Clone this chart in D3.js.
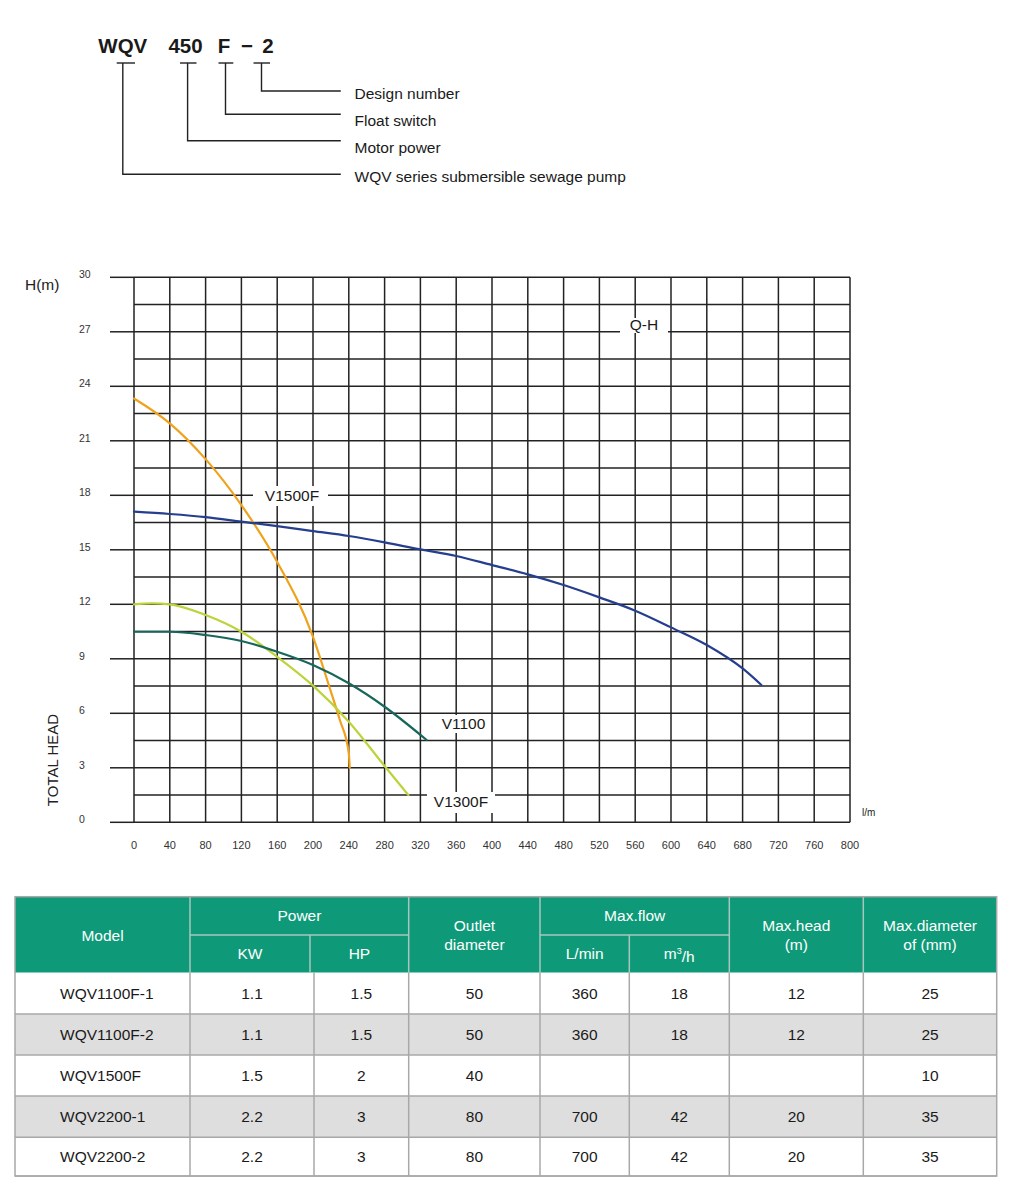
<!DOCTYPE html>
<html><head><meta charset="utf-8">
<script src="https://cdn.jsdelivr.net/npm/d3@7/dist/d3.min.js"></script>
<style>
body{margin:0;background:#fff;}
svg{display:block;font-family:"Liberation Sans",Arial,Helvetica,sans-serif;}
</style>
</head><body>
<svg id="c" width="1012" height="1200"></svg>
<script>
// ---------------- data ----------------
const codeParts = ["WQV", "450", "F", "\u2212", "2"];
const codeMeanings = ["Design number", "Float switch", "Motor power", "WQV series submersible sewage pump"];

const xTickLabels = [0, 40, 80, 120, 160, 200, 240, 280, 320, 360, 400, 440, 480, 520, 560, 600, 640, 680, 720, 760, 800];
const yTickLabels = [0, 3, 6, 9, 12, 15, 18, 21, 24, 27, 30];

const curveQH = [[0,17.1],[40,16.97],[80,16.8],[120,16.55],[160,16.3],[200,16.03],[240,15.76],[280,15.41],[320,15.02],[360,14.66],[400,14.16],[440,13.65],[480,13.06],[520,12.38],[560,11.65],[600,10.73],[640,9.76],[680,8.47],[701,7.56]];
const curveV1500F = [[0,23.33],[40,21.96],[80,19.99],[120,17.46],[160,14.33],[200,10.21],[220,7.19],[230,5.63],[240,3.8],[241,3.0]];
const curveV1300F = [[0,12.0],[20,12.05],[40,12.0],[80,11.41],[120,10.49],[160,9.11],[200,7.52],[240,5.54],[280,3.1],[306.6,1.5]];
const curveV1100 = [[0,10.49],[40,10.49],[80,10.31],[120,9.98],[160,9.39],[200,8.66],[240,7.65],[280,6.36],[327,4.53]];
const curveNames = ["Q-H", "V1500F", "V1100", "V1300F"];

const tableModels = ["WQV1100F-1", "WQV1100F-2", "WQV1500F", "WQV2200-1", "WQV2200-2"];
const tableKW = ["1.1", "1.1", "1.5", "2.2", "2.2"];
const tableHP = ["1.5", "1.5", "2", "3", "3"];
const tableOutlet = ["50", "50", "40", "80", "80"];
const tableFlowLmin = ["360", "360", "", "700", "700"];
const tableFlowM3h = ["18", "18", "", "42", "42"];
const tableMaxHead = ["12", "12", "", "20", "20"];
const tableMaxDiam = ["25", "25", "10", "35", "35"];

// ---------------- drawing ----------------
const svg = d3.select("#c");
const INK = "#222";

// ===== model code diagram =====
const codeG = svg.append("g");
const partX = [122.8, 185.5, 224, 247, 268];
codeG.selectAll("text.part").data(codeParts).join("text")
  .attr("x", (d, i) => partX[i]).attr("y", 53.3)
  .attr("text-anchor", "middle").attr("font-size", 20.5).attr("font-weight", "bold")
  .attr("fill", "#1a1a1a").text(d => d);

// brackets: [left, right, verticalX, dropY] for WQV, 450, F, 2
const brackets = [[116.7,135,122.8,174.3],[180,196.5,187.6,140.7],[218.5,233.3,225.5,114.3],[253.5,270,261.5,91]];
const labelY = [182, 153, 126, 99];
const meaningIdx = [3, 2, 1, 0];
brackets.forEach((b, i) => {
  codeG.append("line").attr("x1", b[0]).attr("x2", b[1]).attr("y1", 63).attr("y2", 63)
    .attr("stroke", INK).attr("stroke-width", 1.4);
  codeG.append("path").attr("d", `M${b[2]},63V${b[3]}H340.8`)
    .attr("fill", "none").attr("stroke", INK).attr("stroke-width", 1.4);
  codeG.append("text").attr("x", 354.5).attr("y", labelY[i])
    .attr("font-size", 15.5).attr("fill", "#1a1a1a").text(codeMeanings[meaningIdx[i]]);
});

// ===== chart =====
const x = d3.scaleLinear().domain([0, 800]).range([134, 850]);
const y = d3.scaleLinear().domain([0, 30]).range([822.3, 277.3]);
const g = svg.append("g");

g.selectAll("line.vg").data(xTickLabels).join("line")
  .attr("x1", d => x(d)).attr("x2", d => x(d)).attr("y1", y(30)).attr("y2", y(0))
  .attr("stroke", INK).attr("stroke-width", 1.5);
const hLines = d3.range(0, 30.001, 1.5);
g.selectAll("line.hg").data(hLines).join("line")
  .attr("x1", x(0)).attr("x2", x(800)).attr("y1", d => y(d)).attr("y2", d => y(d))
  .attr("stroke", INK).attr("stroke-width", 1.5);
g.selectAll("line.tk").data(yTickLabels).join("line")
  .attr("x1", 110).attr("x2", x(0)).attr("y1", d => y(d)).attr("y2", d => y(d))
  .attr("stroke", INK).attr("stroke-width", 1.5);
g.selectAll("text.yt").data(yTickLabels).join("text")
  .attr("x", 79).attr("y", d => y(d) - 2.5).attr("dy", "0.35em")
  .attr("font-size", 10.5).attr("fill", "#333").text(d => d);
g.selectAll("text.xt").data(xTickLabels).join("text")
  .attr("x", d => x(d)).attr("y", 845).attr("dy", "0.35em").attr("text-anchor", "middle")
  .attr("font-size", 11).attr("fill", "#333").text(d => d);

g.append("text").attr("x", 25).attr("y", 285).attr("dy", "0.35em")
  .attr("font-size", 15.5).attr("fill", INK).text("H(m)");
g.append("text").attr("transform", "translate(58,760) rotate(-90)")
  .attr("text-anchor", "middle").attr("font-size", 15).attr("fill", INK).text("TOTAL HEAD");
g.append("text").attr("x", 862).attr("y", 812).attr("dy", "0.35em")
  .attr("font-size", 10).attr("fill", INK).text("l/m");

const labelBoxes = [[620,318,668,333],[253,486,328,506],[440,715,487,733],[427,792,495,813]];
const labelPos = [[644,325],[292,496],[463.5,724],[461,801.5]];
labelBoxes.forEach(b => {
  g.append("rect").attr("x", b[0]).attr("y", b[1]).attr("width", b[2] - b[0]).attr("height", b[3] - b[1]).attr("fill", "#fff");
});

const line = d3.line().x(d => x(d[0])).y(d => y(d[1])).curve(d3.curveMonotoneX);
const curves = [[curveV1500F, "#f0a21c"], [curveV1300F, "#bcd33a"], [curveV1100, "#17675a"], [curveQH, "#253e8e"]];
curves.forEach(c => {
  g.append("path").attr("d", line(c[0])).attr("fill", "none")
    .attr("stroke", c[1]).attr("stroke-width", 2.2).attr("stroke-linecap", "round");
});

curveNames.forEach((n, i) => {
  g.append("text").attr("x", labelPos[i][0]).attr("y", labelPos[i][1]).attr("dy", "0.35em")
    .attr("text-anchor", "middle").attr("font-size", 15.5).attr("fill", "#1a1a1a").text(n);
});

// ===== table =====
const tb = svg.append("g");
const T = {left: 15, right: 996.7, top: 896.7, mid: 935, hb: 972.7};
const rowY = [972.7, 1014, 1055, 1096, 1137.3, 1176];
const GREEN = "#0e9a78", HLINE = "#a9c6bc", BLINE = "#a8a8a8";

tb.append("rect").attr("x", T.left).attr("y", T.top).attr("width", T.right - T.left).attr("height", T.hb - T.top).attr("fill", GREEN);
tableModels.forEach((m, i) => {
  tb.append("rect").attr("x", T.left).attr("y", rowY[i]).attr("width", T.right - T.left)
    .attr("height", rowY[i + 1] - rowY[i]).attr("fill", i % 2 === 1 ? "#dedede" : "#fff");
});
const hv = [190, 408.7, 540, 729.3, 863.3];
hv.forEach(v => tb.append("line").attr("x1", v).attr("x2", v).attr("y1", T.top).attr("y2", T.hb).attr("stroke", HLINE).attr("stroke-width", 1.5));
[[190, 408.7], [540, 729.3]].forEach(s => tb.append("line").attr("x1", s[0]).attr("x2", s[1]).attr("y1", T.mid).attr("y2", T.mid).attr("stroke", HLINE).attr("stroke-width", 1.5));
[310, 629.3].forEach(v => tb.append("line").attr("x1", v).attr("x2", v).attr("y1", T.mid).attr("y2", T.hb).attr("stroke", HLINE).attr("stroke-width", 1.5));
const bv = [190, 314, 408.7, 540, 629.3, 729.3, 863.3];
bv.forEach(v => tb.append("line").attr("x1", v).attr("x2", v).attr("y1", T.hb).attr("y2", rowY[5]).attr("stroke", BLINE).attr("stroke-width", 1.5));
rowY.slice(1).forEach(r => tb.append("line").attr("x1", T.left).attr("x2", T.right).attr("y1", r).attr("y2", r).attr("stroke", BLINE).attr("stroke-width", 1.5));
tb.append("rect").attr("x", T.left).attr("y", T.top).attr("width", T.right - T.left).attr("height", rowY[5] - T.top)
  .attr("fill", "none").attr("stroke", BLINE).attr("stroke-width", 1.5);

const hdr = (txt, cx, cy) => tb.append("text").attr("x", cx).attr("y", cy).attr("dy", "0.35em")
  .attr("text-anchor", "middle").attr("font-size", 15.5).attr("fill", "#fff").text(txt);
hdr("Model", 102.5, 935.7);
hdr("Power", 299.4, 916);
hdr("KW", 250, 954);
hdr("HP", 359.4, 954);
hdr("Outlet", 474.4, 925.7);
hdr("diameter", 474.4, 945);
hdr("Max.flow", 634.7, 916);
hdr("L/min", 584.7, 954);
const m3 = tb.append("text").attr("x", 679.3).attr("y", 954).attr("dy", "0.35em")
  .attr("text-anchor", "middle").attr("font-size", 15.5).attr("fill", "#fff");
m3.append("tspan").text("m");
m3.append("tspan").attr("font-size", 9).attr("dy", "-0.55em").text("3");
m3.append("tspan").attr("dy", "0.5em").text("/h");
hdr("Max.head", 796.3, 925.7);
hdr("(m)", 796.3, 945);
hdr("Max.diameter", 930, 925.7);
hdr("of (mm)", 930, 945);

const cols = [[tableKW, 252], [tableHP, 361.4], [tableOutlet, 474.4], [tableFlowLmin, 584.7], [tableFlowM3h, 679.3], [tableMaxHead, 796.3], [tableMaxDiam, 930]];
tableModels.forEach((m, i) => {
  const cy = (rowY[i] + rowY[i + 1]) / 2;
  tb.append("text").attr("x", 60).attr("y", cy).attr("dy", "0.35em")
    .attr("font-size", 15.5).attr("fill", "#1a1a1a").text(m);
  cols.forEach(c => {
    if (c[0][i] !== "") tb.append("text").attr("x", c[1]).attr("y", cy).attr("dy", "0.35em")
      .attr("text-anchor", "middle").attr("font-size", 15.5).attr("fill", "#1a1a1a").text(c[0][i]);
  });
});
</script>
</body></html>
